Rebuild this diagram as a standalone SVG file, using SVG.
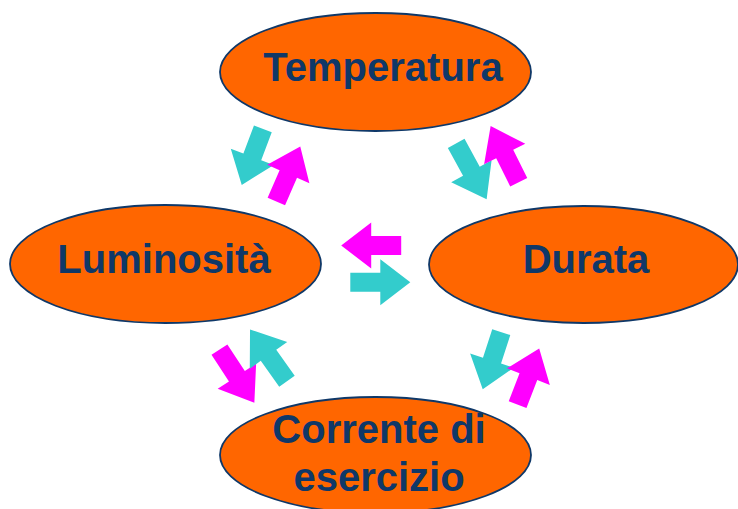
<svg xmlns="http://www.w3.org/2000/svg" width="738" height="509" viewBox="0 0 738 509">
<style>
.node ellipse{fill:#FF6600;stroke:#0F3868;stroke-width:1.8}
.node text{font-family:"Liberation Sans",Arial,sans-serif;font-weight:bold;font-size:40px;fill:#0F3868;text-anchor:middle}
.cy{fill:#33CCCC}
.mg{fill:#FF00FF}
</style>
<defs>
<path id="arr" d="M-30,-9.5 H0 V-23 L30,0 L0,23 V9.5 H-30 Z"/>
</defs>
<rect width="738" height="509" fill="#FFFFFF"/>
<g id="connectors">
<use href="#arr" class="cy" transform="translate(252.3,156.9) rotate(110.6)"/>
<use href="#arr" class="mg" transform="translate(288.3,174) rotate(-66.5)"/>
<use href="#arr" class="cy" transform="translate(471.4,171.3) rotate(61.4) scale(1.06,1)"/>
<use href="#arr" class="mg" transform="translate(504.7,154.1) rotate(-116.5) scale(1.05,1)"/>
<use href="#arr" class="mg" transform="translate(371.2,245.5) rotate(180)"/>
<use href="#arr" class="cy" transform="translate(380.3,282.2)"/>
<use href="#arr" class="mg" transform="translate(236.9,376.2) rotate(56.7) scale(1.06,1)"/>
<use href="#arr" class="cy" transform="translate(268.5,355.3) rotate(-125.5) scale(1.06,1)"/>
<use href="#arr" class="cy" transform="translate(492,360.6) rotate(108)"/>
<use href="#arr" class="mg" transform="translate(528.4,376.6) rotate(-68.9)"/>
</g>
<g id="node-temperatura" class="node">
<ellipse cx="375.5" cy="72" rx="155.5" ry="59"/>
<text x="383" y="81">Temperatura</text>
</g>
<g id="node-luminosita" class="node">
<ellipse cx="165.5" cy="264" rx="155.5" ry="59"/>
<text x="164" y="273">Luminosità</text>
</g>
<g id="node-durata" class="node">
<ellipse cx="583.5" cy="264.5" rx="154.5" ry="58.5"/>
<text x="586" y="273">Durata</text>
</g>
<g id="node-corrente" class="node">
<ellipse cx="375.5" cy="455" rx="155.5" ry="58"/>
<text x="379" y="443">Corrente di</text>
<text x="379" y="491">esercizio</text>
</g>
</svg>
